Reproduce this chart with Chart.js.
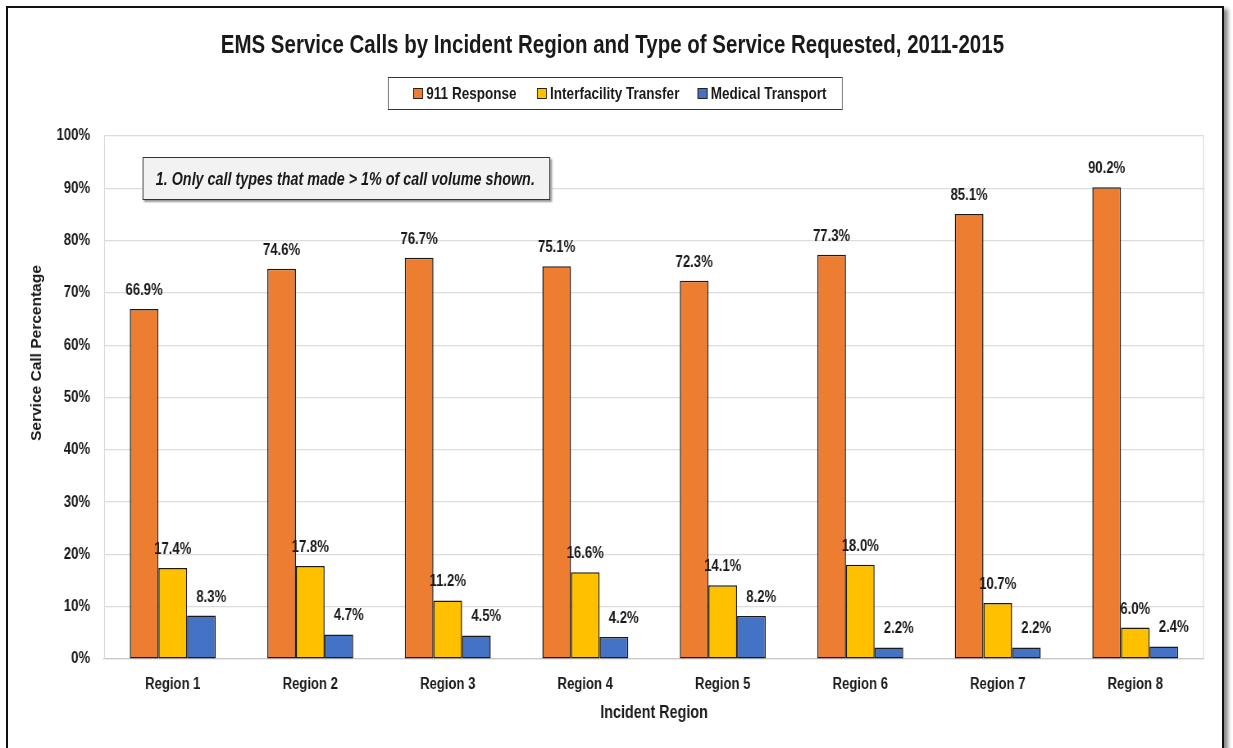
<!DOCTYPE html>
<html>
<head>
<meta charset="utf-8">
<script src="https://cdn.jsdelivr.net/npm/chart.js@4/dist/chart.umd.min.js"></script>
<style>
  html, body { margin: 0; padding: 0; background: #fff; overflow: hidden; }
  #frame {
    position: absolute; left: 6px; top: 6px; width: 1214px; height: 800px;
    border: 2px solid #111; box-shadow: 4px 3px 4px #8a8a8a; background: #fff;
  }
  /* Arial Narrow o'rniga: butun sahnani gorizontal siqamiz */
  #stage {
    position: absolute; left: 0; top: 0; width: 1504px; height: 748px;
    transform: scaleX(0.81981); transform-origin: 0 0;
    font-family: "Liberation Sans", Arial, sans-serif; color: #1a1a1a;
  }
  #stage canvas { position: absolute; left: 0; top: 0; }
  #title {
    position: absolute; left: 0; top: 29px; width: 1494px; text-align: center;
    font-size: 25px; font-weight: bold; line-height: 30px; white-space: nowrap;
  }
  #legend {
    position: absolute; left: 473px; top: 77px; width: 553px; height: 31px;
    border: 1px solid #333; font-size: 16.5px; font-weight: bold;
  }
  #legend .box { position: absolute; top: 10px; width: 10px; height: 8.5px; border: 1px solid #222; }
  #legend .txt { position: absolute; top: 5px; line-height: 20px; white-space: nowrap; }
  #note {
    position: absolute; left: 174px; top: 157px; width: 497px; height: 43px;
    border: 1px solid #333; background: #f2f2f2; box-shadow: 2px 2px 2px #999;
    font-size: 17.5px; font-weight: bold; font-style: italic; line-height: 43px;
    padding-left: 15px; box-sizing: border-box; white-space: nowrap;
  }
  #ytitle {
    position: absolute; left: 36px; top: 353px; transform: translate(-50%, -50%) rotate(-90deg);
    font: bold 15.5px "Liberation Sans", Arial, sans-serif; color: #1a1a1a; white-space: nowrap;
  }
</style>
</head>
<body>
<div id="frame"></div>
<div id="stage">
  <canvas id="emsChart" width="1504" height="748"></canvas>
  <div id="title">EMS Service Calls by Incident Region and Type of Service Requested, 2011-2015</div>
  <div id="legend"></div>
  <div id="note">1. Only call types that made &gt; 1% of call volume shown.</div>
</div>
<div id="ytitle">Service Call Percentage</div>
<script>
// Ma'lumotlar
const regions = ['Region 1', 'Region 2', 'Region 3', 'Region 4', 'Region 5', 'Region 6', 'Region 7', 'Region 8'];
const seriesNames = ['911 Response', 'Interfacility Transfer', 'Medical Transport'];
const response911 = [66.9, 74.6, 76.7, 75.1, 72.3, 77.3, 85.1, 90.2];
const interfacility = [17.4, 17.8, 11.2, 16.6, 14.1, 18.0, 10.7, 6.0];
const medicalTransport = [8.3, 4.7, 4.5, 4.2, 8.2, 2.2, 2.2, 2.4];
const yTicks = [0, 10, 20, 30, 40, 50, 60, 70, 80, 90, 100];

const colors = ['#ED7D31', '#FFC000', '#4472C4'];
const labelShift = [0, 0, 12];
const legendBoxX = [30, 181, 377];   // legend ichidagi joylashuv (sahna px)
const fontFamily = '"Liberation Sans", Arial, sans-serif';

// Legend (HTML)
const legendEl = document.getElementById('legend');
seriesNames.forEach((name, i) => {
    legendEl.innerHTML +=
        '<span class="box" style="left:' + legendBoxX[i] + 'px;background:' + colors[i] + '"></span>' +
        '<span class="txt" style="left:' + (legendBoxX[i] + 16) + 'px">' + name + '</span>';
});

// Bar ustidagi qiymatlar
const barLabels = {
    id: 'barLabels',
    afterDatasetsDraw(chart) {
        const ctx = chart.ctx;
        ctx.save();
        ctx.font = 'bold 16px ' + fontFamily;
        ctx.fillStyle = '#1a1a1a';
        ctx.textAlign = 'center';
        ctx.textBaseline = 'alphabetic';
        chart.data.datasets.forEach((ds, i) => {
            chart.getDatasetMeta(i).data.forEach((bar, j) => {
                ctx.fillText(ds.data[j].toFixed(1) + '%', bar.x + labelShift[i], bar.y - 14);
            });
        });
        ctx.restore();
    }
};

// Plot area chegarasi
const plotBorder = {
    id: 'plotBorder',
    beforeDatasetsDraw(chart) {
        const { ctx, chartArea: a } = chart;
        ctx.save();
        ctx.strokeStyle = '#d9d9d9';
        ctx.lineWidth = 1.2;
        ctx.beginPath();
        ctx.moveTo(a.left + 0.6, a.top);
        ctx.lineTo(a.left + 0.6, a.bottom);
        ctx.moveTo(a.right - 0.6, a.top);
        ctx.lineTo(a.right - 0.6, a.bottom);
        ctx.stroke();
        ctx.restore();
    }
};

const ctx = document.getElementById('emsChart').getContext('2d');
new Chart(ctx, {
    type: 'bar',
    data: {
        labels: regions,
        datasets: [response911, interfacility, medicalTransport].map((d, i) => ({
            label: seriesNames[i],
            data: d,
            backgroundColor: colors[i],
            borderColor: '#1a1a1a',
            borderWidth: 1.5,
            borderSkipped: false,
            categoryPercentage: 0.625,
            barPercentage: 1.0
        }))
    },
    options: {
        responsive: false,
        animation: false,
        devicePixelRatio: 1,
        layout: { padding: { left: 10, right: 35.35, top: 136, bottom: 20.5 } },
        plugins: {
            legend: { display: false },
            title: { display: false },
            tooltip: { enabled: false }
        },
        scales: {
            x: {
                grid: { display: false, drawTicks: false },
                border: { display: true, color: '#c8c8c8', width: 1.2 },
                ticks: {
                    padding: 16,
                    color: '#1a1a1a',
                    font: { family: fontFamily, size: 16, weight: 'bold' }
                },
                title: {
                    display: true,
                    text: 'Incident Region',
                    color: '#1a1a1a',
                    font: { family: fontFamily, size: 17.5, weight: 'bold' }
                },
                afterFit(scale) { scale.height = 68.5; }
            },
            y: {
                min: 0,
                max: 100,
                afterBuildTicks(scale) { scale.ticks = yTicks.map(v => ({ value: v })); },
                grid: { color: '#dcdcdc', lineWidth: 1.2, drawTicks: false },
                border: { display: false },
                ticks: {
                    padding: 17,
                    color: '#1a1a1a',
                    font: { family: fontFamily, size: 16, weight: 'bold' },
                    callback: v => v + '%'
                },
                afterFit(scale) { scale.width = 116.86; }
            }
        }
    },
    plugins: [plotBorder, barLabels]
});
</script>
</body>
</html>
